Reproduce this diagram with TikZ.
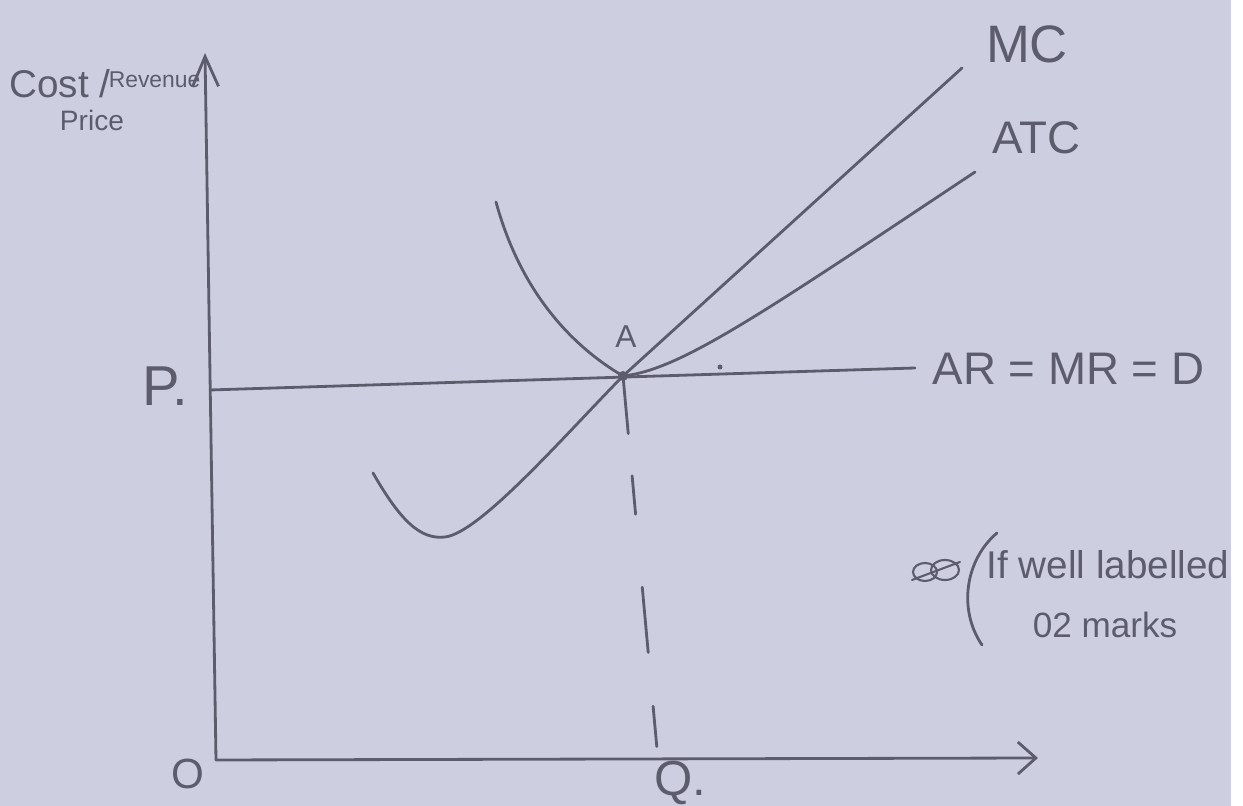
\documentclass[tikz,border=0pt]{standalone}
\usepackage{fontspec}
\setmainfont{Liberation Sans}
\usetikzlibrary{arrows.meta, calc, positioning}

\definecolor{paper}{RGB}{205,207,225}
\definecolor{pencil}{RGB}{92,92,108}

\begin{document}
\begin{tikzpicture}[x=0.1mm, y=-0.1mm,
    curve/.style={draw=pencil, line width=0.8pt, line cap=round},
    hand/.style={text=pencil, inner sep=0pt}]
    \fill[paper] (0,0) rectangle (1243,806);
    \fill[white] (1231,0) rectangle (1243,806);

    % axes
    \coordinate (o) at (216,760);
    \coordinate (ytop) at (205,53);
    \coordinate (xend) at (1038,758);
    \draw[curve, -{Straight Barb[length=3mm, width=2.6mm]}] (o) -- (ytop);
    \draw[curve, -{Straight Barb[length=1.8mm, width=3.2mm]}] (o) -- (xend);

    % price line AR = MR = D
    \coordinate (pl) at (210,390);
    \coordinate (pr) at (915,368);
    \coordinate (pA) at (623,376);
    \draw[curve] (pl) -- (pr);

    % MC
    \coordinate (mc0) at (373,473);
    \coordinate (mcmin) at (445,537);
    \coordinate (mc1) at (962,68);
    \draw[curve] (mc0) .. controls (400,520) and (420,540) .. (mcmin)
        .. controls (480,533) and (565,435) .. (pA) -- (mc1);

    % ATC
    \coordinate (atc0) at (496,202);
    \coordinate (atc1) at (975,172);
    \draw[curve] (atc0) .. controls (520,290) and (570,345) .. (pA)
        .. controls (680,370) and (760,315) .. (atc1);

    \fill[pencil] (pA) circle (0.5mm);
    \fill[pencil] (720,367) circle (0.25mm);

    % broken line down to Q
    \coordinate (qa) at (658,760);
    \foreach \a/\b in {0/0.15, 0.26/0.36, 0.55/0.72, 0.86/0.965}
        \draw[curve] ($(pA)!\a!(qa)$) -- ($(pA)!\b!(qa)$);

    % labels
    \node[hand, font=\fontsize{11}{11}\selectfont] (cost) at (60,84) {Cost /};
    \node[hand, font=\fontsize{6.5}{6.5}\selectfont, anchor=east] (rev) at (201,80) {Revenue};
    \node[hand, font=\fontsize{8}{8}\selectfont] (price) at (92,120) {Price};
    \node[hand, font=\fontsize{15}{15}\selectfont] (mcl) at (1027,44) {MC};
    \node[hand, font=\fontsize{13}{13}\selectfont] (atcl) at (1036,138) {ATC};
    \node[hand, font=\fontsize{13}{13}\selectfont, anchor=west] (arl) at (932,369) {AR = MR = D};
    \node[hand, font=\fontsize{9}{9}\selectfont] (al) at (626,337) {A};
    \node[hand, font=\fontsize{16}{16}\selectfont] (pl1) at (165,386) {P.};
    \node[hand, font=\fontsize{14}{14}\selectfont] (ql) at (680,783) {Q.};
    \node[hand, font=\fontsize{12}{12}\selectfont] (ol) at (188,774) {O};

    % marking note
    \draw[curve] (997,533) .. controls (965,560) and (958,610) .. (982,645);
    \draw[curve, line width=0.6pt] (925,572) ellipse (1.2mm and 0.9mm);
    \draw[curve, line width=0.6pt] (945,570) ellipse (1.4mm and 1mm);
    \draw[curve, line width=0.6pt] (912,580) -- (960,562);
    \node[hand, font=\fontsize{11}{11}\selectfont] (note1) at (1108,565) {If well labelled};
    \node[hand, font=\fontsize{10}{10}\selectfont] (note2) at (1105,625) {02 marks};
\end{tikzpicture}
\end{document}
